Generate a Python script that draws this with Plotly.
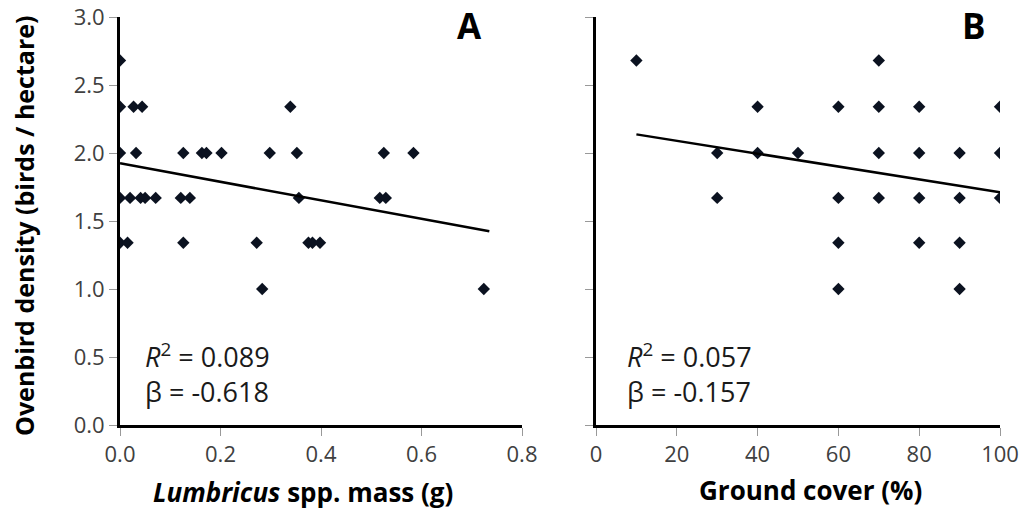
import plotly.graph_objects as go

# Panel A: Lumbricus spp. mass (g) vs ovenbird density
mass_x = [0.0, 0.0, 0.027, 0.044, 0.339,
          0.0, 0.032, 0.126, 0.163, 0.172, 0.202, 0.298, 0.352, 0.525, 0.584,
          0.0, 0.020, 0.041, 0.050, 0.071, 0.121, 0.139, 0.356, 0.517, 0.529,
          0.0, 0.015, 0.126, 0.272, 0.375, 0.383, 0.398,
          0.283, 0.724]
mass_y = [2.68, 2.34, 2.34, 2.34, 2.34,
          2.0, 2.0, 2.0, 2.0, 2.0, 2.0, 2.0, 2.0, 2.0, 2.0,
          1.67, 1.67, 1.67, 1.67, 1.67, 1.67, 1.67, 1.67, 1.67, 1.67,
          1.34, 1.34, 1.34, 1.34, 1.34, 1.34, 1.34,
          1.0, 1.0]

# Panel B: ground cover (%) vs ovenbird density
cover_x = [10, 70,
           40, 60, 70, 80, 100,
           30, 40, 50, 70, 80, 90, 100,
           30, 60, 70, 80, 90, 100,
           60, 80, 90,
           60, 90]
cover_y = [2.68, 2.68,
           2.34, 2.34, 2.34, 2.34, 2.34,
           2.0, 2.0, 2.0, 2.0, 2.0, 2.0, 2.0,
           1.67, 1.67, 1.67, 1.67, 1.67, 1.67,
           1.34, 1.34, 1.34,
           1.0, 1.0]

# Trend lines
fit_a_x = [0.0, 0.735]
fit_a_y = [1.924, 1.424]
fit_b_x = [10, 100]
fit_b_y = [2.137, 1.711]

stats_a = ["0.089", "-0.618"]
stats_b = ["0.057", "-0.157"]

y_ticks = [0.0, 0.5, 1.0, 1.5, 2.0, 2.5, 3.0]
y_tick_text = ["0.0", "0.5", "1.0", "1.5", "2.0", "2.5", "3.0"]
xa_ticks = [0.0, 0.2, 0.4, 0.6, 0.8]
xa_tick_text = ["0.0", "0.2", "0.4", "0.6", "0.8"]
xb_ticks = [0, 20, 40, 60, 80, 100]
xb_tick_text = ["0", "20", "40", "60", "80", "100"]

W, H = 1023, 527
FONT = "Open Sans"
MARK = "#0b1220"

fig = go.Figure()
fig.add_trace(go.Scatter(x=mass_x, y=mass_y, mode="markers", xaxis="x", yaxis="y",
                         marker=dict(symbol="diamond", size=9.5, color=MARK), showlegend=False))
fig.add_trace(go.Scatter(x=fit_a_x, y=fit_a_y, mode="lines", xaxis="x", yaxis="y",
                         line=dict(color="black", width=2.5), showlegend=False))
fig.add_trace(go.Scatter(x=cover_x, y=cover_y, mode="markers", xaxis="x2", yaxis="y2",
                         marker=dict(symbol="diamond", size=9.5, color=MARK), showlegend=False))
fig.add_trace(go.Scatter(x=fit_b_x, y=fit_b_y, mode="lines", xaxis="x2", yaxis="y2",
                         line=dict(color="black", width=2.5), showlegend=False))

y_dom = [(H - 425) / H, (H - 17) / H]
axis_common = dict(showline=True, linecolor="black", linewidth=3, showgrid=False, zeroline=False,
                   ticks="outside", ticklen=8, tickwidth=1, tickcolor="#999999", automargin=False,
                   tickfont=dict(family=FONT, size=22, color="#404040"))

fig.update_layout(
    width=W, height=H, margin=dict(l=0, r=0, t=0, b=0, pad=0, autoexpand=False),
    paper_bgcolor="white", plot_bgcolor="white",
    xaxis=dict(domain=[120 / W, 522 / W], range=[0, 0.8], tickvals=xa_ticks, ticktext=xa_tick_text,
               anchor="y", **axis_common),
    yaxis=dict(domain=y_dom, range=[0, 3], tickvals=y_ticks, ticktext=y_tick_text, anchor="x",
               **axis_common),
    xaxis2=dict(domain=[596 / W, 1000 / W], range=[0, 100], tickvals=xb_ticks, ticktext=xb_tick_text,
                anchor="y2", **axis_common),
    yaxis2=dict(domain=y_dom, range=[0, 3], tickvals=y_ticks, showticklabels=False, anchor="x2",
                **axis_common),
)

def px_ann(x, y, text, size, bold=False, angle=0, xanchor="center", color="black"):
    fig.add_annotation(x=x / W, y=1 - y / H, xref="paper", yref="paper", text=text, showarrow=False,
                       xanchor=xanchor, yanchor="middle", textangle=angle, borderpad=0, align="left",
                       font=dict(family=FONT, size=size, color=color,
                                 weight="bold" if bold else "normal"))

px_ann(469, 25, "A", 35, bold=True)
px_ann(974, 26, "B", 35, bold=True)
px_ann(24, 226, "Ovenbird density (birds / hectare)", 25, bold=True, angle=-90)
px_ann(303, 492, "<i>Lumbricus</i> spp. mass (g)", 26, bold=True)
px_ann(810, 490, "Ground cover (%)", 26, bold=True)
px_ann(144, 373, f"<i>R</i><sup>2</sup> = {stats_a[0]}<br>β = {stats_a[1]}", 27,
       xanchor="left", color="#1a1a1a")
px_ann(626, 373, f"<i>R</i><sup>2</sup> = {stats_b[0]}<br>β = {stats_b[1]}", 27,
       xanchor="left", color="#1a1a1a")

fig.write_html("out.html")
